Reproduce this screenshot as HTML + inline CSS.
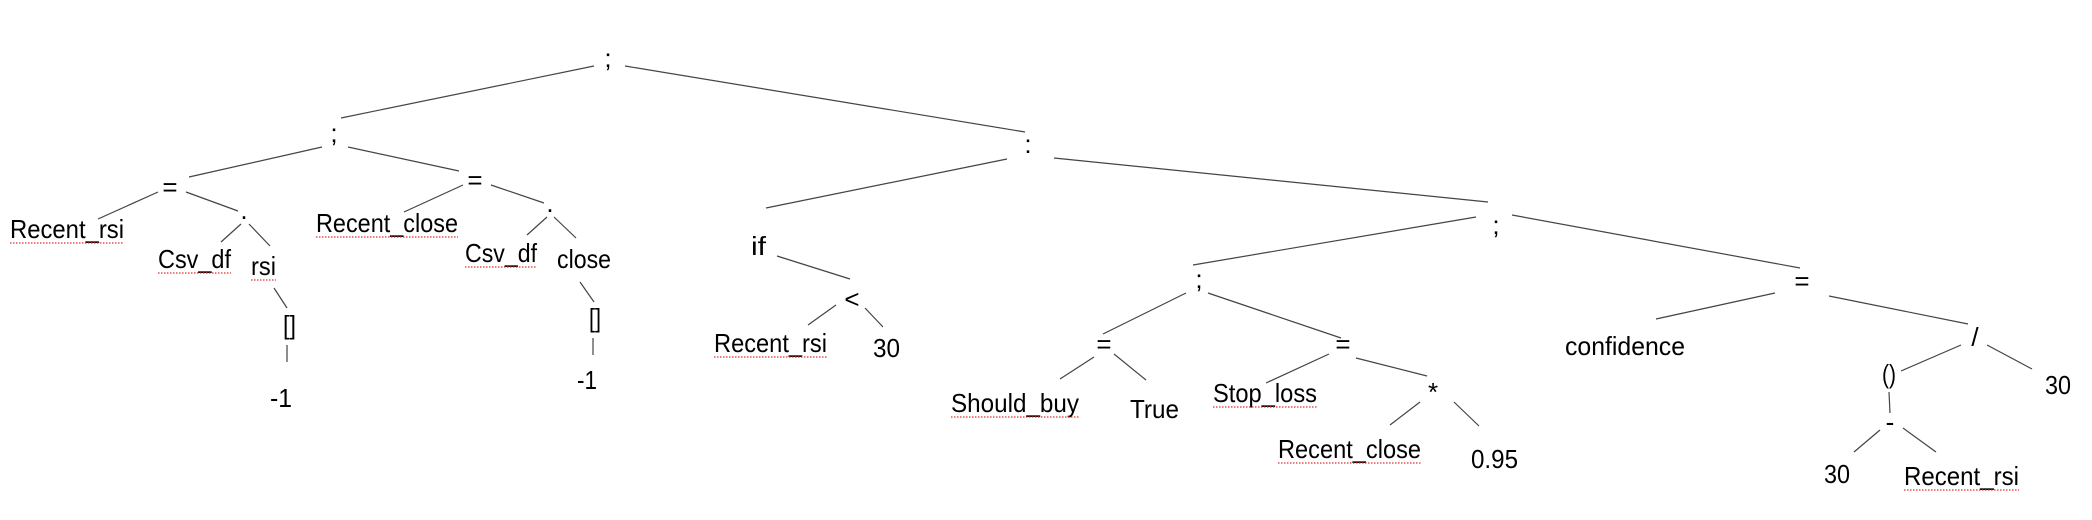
<!DOCTYPE html>
<html><head><meta charset="utf-8"><style>
html,body{margin:0;padding:0;background:#fff;}
svg{display:block;}
text{font-family:"Liberation Sans",sans-serif;font-size:26px;fill:#000;}
line{stroke:#444;stroke-width:1.2;}
.u{stroke:#e03030;stroke-width:1.2;stroke-dasharray:1.5 1.5;}
</style></head><body>
<svg width="2092" height="520" viewBox="0 0 2092 520" xmlns="http://www.w3.org/2000/svg">
<!-- lines -->
<line x1="594" y1="66" x2="341" y2="118"/>
<line x1="625" y1="66" x2="1025" y2="132"/>
<line x1="322" y1="147" x2="189" y2="177"/>
<line x1="348" y1="147" x2="459" y2="171"/>
<line x1="158" y1="192" x2="98" y2="219"/>
<line x1="186" y1="192" x2="238" y2="211"/>
<line x1="241" y1="224" x2="221" y2="242"/>
<line x1="249" y1="224" x2="270" y2="246"/>
<line x1="274" y1="288" x2="287" y2="308"/>
<line x1="287" y1="345" x2="287" y2="362"/>
<line x1="463" y1="185" x2="404" y2="212"/>
<line x1="491" y1="185" x2="544" y2="203"/>
<line x1="547" y1="217" x2="527" y2="235"/>
<line x1="554" y1="217" x2="576" y2="238"/>
<line x1="580" y1="282" x2="594" y2="302"/>
<line x1="593" y1="338" x2="593" y2="355"/>
<line x1="1007" y1="159" x2="766" y2="208"/>
<line x1="1054" y1="158" x2="1488" y2="202"/>
<line x1="777" y1="256" x2="850" y2="279"/>
<line x1="836" y1="305" x2="808" y2="325"/>
<line x1="865" y1="308" x2="883" y2="327"/>
<line x1="1476" y1="217" x2="1193" y2="265"/>
<line x1="1186" y1="293" x2="1103" y2="334"/>
<line x1="1208" y1="293" x2="1341" y2="338"/>
<line x1="1094" y1="357" x2="1060" y2="379"/>
<line x1="1114" y1="354" x2="1146" y2="380"/>
<line x1="1329" y1="354" x2="1266" y2="383"/>
<line x1="1356" y1="358" x2="1427" y2="376"/>
<line x1="1420" y1="402" x2="1390" y2="425"/>
<line x1="1454" y1="402" x2="1479" y2="426"/>
<line x1="1512" y1="215" x2="1800" y2="268"/>
<line x1="1775" y1="293" x2="1656" y2="319"/>
<line x1="1829" y1="296" x2="1968" y2="324"/>
<line x1="1961" y1="345" x2="1901" y2="371"/>
<line x1="1987" y1="345" x2="2032" y2="369"/>
<line x1="1889" y1="392" x2="1890" y2="413"/>
<line x1="1880" y1="430" x2="1854" y2="452"/>
<line x1="1903" y1="428" x2="1936" y2="452"/>
<!-- labels -->
<text x="608" y="67" text-anchor="middle">;</text>
<text x="334" y="142" text-anchor="middle">;</text>
<text x="170" y="196" text-anchor="middle">=</text>
<text x="10" y="238" textLength="114" lengthAdjust="spacingAndGlyphs">Recent_rsi</text>
<text x="244" y="219" text-anchor="middle">.</text>
<text x="158" y="268" textLength="73" lengthAdjust="spacingAndGlyphs">Csv_df</text>
<text x="251" y="275" textLength="25" lengthAdjust="spacingAndGlyphs">rsi</text>
<text x="283" y="334" textLength="13" lengthAdjust="spacingAndGlyphs">[]</text>
<text x="270" y="407" textLength="22" lengthAdjust="spacingAndGlyphs">-1</text>
<text x="475" y="189" text-anchor="middle">=</text>
<text x="316" y="232" textLength="142" lengthAdjust="spacingAndGlyphs">Recent_close</text>
<text x="550" y="212" text-anchor="middle">.</text>
<text x="465" y="262" textLength="72" lengthAdjust="spacingAndGlyphs">Csv_df</text>
<text x="557" y="268" textLength="54" lengthAdjust="spacingAndGlyphs">close</text>
<text x="589" y="327" textLength="12" lengthAdjust="spacingAndGlyphs">[]</text>
<text x="577" y="389" textLength="20" lengthAdjust="spacingAndGlyphs">-1</text>
<text x="1028" y="153" text-anchor="middle">:</text>
<text x="751" y="255" textLength="15" lengthAdjust="spacingAndGlyphs">if</text>
<text x="852" y="308" text-anchor="middle">&lt;</text>
<text x="714" y="352" textLength="113" lengthAdjust="spacingAndGlyphs">Recent_rsi</text>
<text x="873" y="357" textLength="27" lengthAdjust="spacingAndGlyphs">30</text>
<text x="1496" y="234" text-anchor="middle">;</text>
<text x="1199" y="288" text-anchor="middle">;</text>
<text x="1104" y="353" text-anchor="middle">=</text>
<text x="951" y="412" textLength="128" lengthAdjust="spacingAndGlyphs">Should_buy</text>
<text x="1130" y="418" textLength="49" lengthAdjust="spacingAndGlyphs">True</text>
<text x="1343" y="353" text-anchor="middle">=</text>
<text x="1213" y="402" textLength="104" lengthAdjust="spacingAndGlyphs">Stop_loss</text>
<text x="1433" y="401" text-anchor="middle">*</text>
<text x="1278" y="458" textLength="143" lengthAdjust="spacingAndGlyphs">Recent_close</text>
<text x="1471" y="468" textLength="47" lengthAdjust="spacingAndGlyphs">0.95</text>
<text x="1802" y="290" text-anchor="middle">=</text>
<text x="1565" y="355" textLength="120" lengthAdjust="spacingAndGlyphs">confidence</text>
<text x="1975" y="346" text-anchor="middle">/</text>
<text x="1882" y="383" textLength="14" lengthAdjust="spacingAndGlyphs">()</text>
<text x="2045" y="394" textLength="26" lengthAdjust="spacingAndGlyphs">30</text>
<text x="1890" y="431" text-anchor="middle">-</text>
<text x="1824" y="483" textLength="26" lengthAdjust="spacingAndGlyphs">30</text>
<text x="1904" y="485" textLength="115" lengthAdjust="spacingAndGlyphs">Recent_rsi</text>
<!-- spellcheck underlines -->
<line class="u" x1="10" y1="243" x2="124" y2="243"/>
<line class="u" x1="158" y1="273" x2="231" y2="273"/>
<line class="u" x1="251" y1="280" x2="276" y2="280"/>
<line class="u" x1="316" y1="237" x2="458" y2="237"/>
<line class="u" x1="465" y1="267" x2="537" y2="267"/>
<line class="u" x1="714" y1="357" x2="827" y2="357"/>
<line class="u" x1="951" y1="417" x2="1079" y2="417"/>
<line class="u" x1="1213" y1="407" x2="1317" y2="407"/>
<line class="u" x1="1278" y1="463" x2="1421" y2="463"/>
<line class="u" x1="1904" y1="490" x2="2019" y2="490"/>
</svg>
</body></html>
